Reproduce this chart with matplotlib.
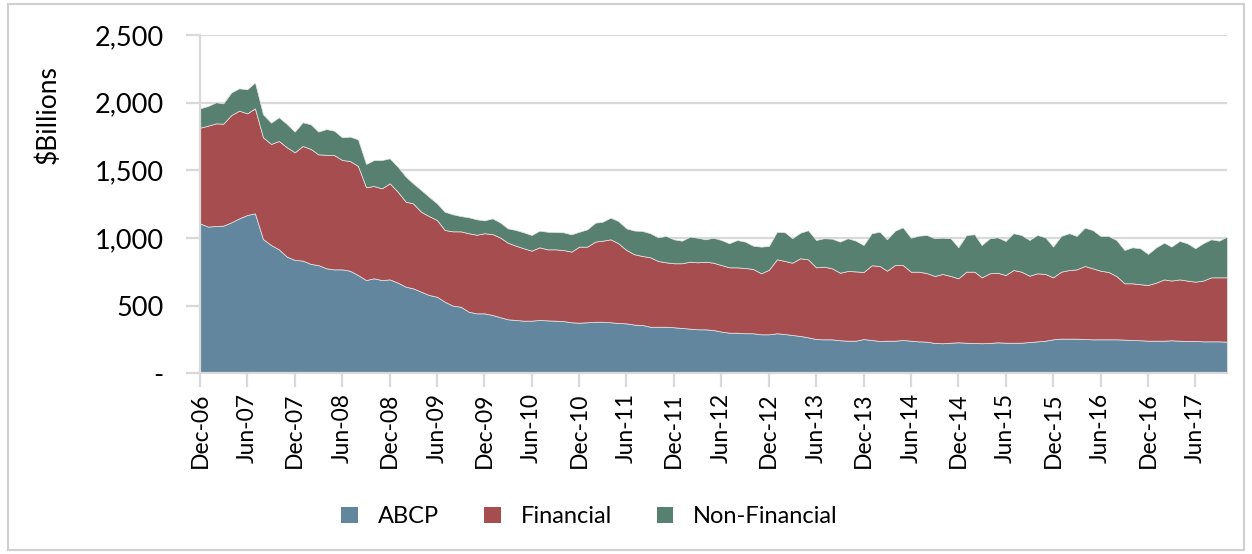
import numpy as np
import pandas as pd
import matplotlib
matplotlib.use("Agg")
import matplotlib.pyplot as plt
from matplotlib.patches import Patch, Rectangle

plt.rcParams['font.family'] = ['Lato', 'DejaVu Sans']

# monthly, Dec-06 .. Oct-17 ($ billions)
months = pd.date_range("2006-12-01", periods=131, freq="MS")

abcp = [1108, 1084, 1089, 1091, 1116, 1145, 1170, 1182, 992, 948,
        916, 862, 838, 833, 808, 800, 776, 768, 768, 758,
        726, 689, 702, 689, 694, 670, 640, 628, 603, 579,
        566, 529, 500, 492, 455, 443, 443, 431, 414, 399,
        394, 389, 389, 394, 391, 389, 386, 377, 374, 377,
        381, 381, 377, 372, 369, 360, 357, 344, 344, 344,
        340, 335, 330, 325, 325, 320, 308, 300, 300, 296,
        296, 288, 288, 296, 290, 283, 276, 266, 253, 251,
        251, 244, 241, 241, 253, 246, 239, 241, 241, 246,
        241, 236, 234, 224, 222, 226, 229, 226, 224, 222,
        224, 229, 226, 226, 226, 231, 236, 241, 251, 256,
        256, 256, 253, 251, 251, 251, 251, 249, 246, 244,
        241, 241, 241, 244, 241, 239, 239, 236, 236, 236,
        234]

financial = [707, 746, 758, 754, 793, 796, 751, 776, 752, 747,
             801, 808, 795, 847, 850, 818, 839, 845, 808, 811,
             806, 686, 682, 678, 710, 672, 628, 628, 591, 583,
             567, 530, 549, 557, 580, 581, 592, 598, 588, 566,
             549, 535, 517, 537, 525, 527, 525, 522, 562, 559,
             592, 599, 613, 589, 542, 520, 510, 513, 486, 476,
             473, 478, 495, 495, 500, 497, 492, 483, 483, 482,
             475, 451, 477, 546, 540, 534, 574, 576, 530, 537,
             525, 499, 515, 512, 496, 552, 554, 517, 559, 554,
             510, 515, 507, 495, 512, 493, 473, 525, 527, 487,
             515, 514, 500, 537, 525, 490, 503, 493, 458, 495,
             507, 512, 540, 525, 507, 498, 468, 416, 419, 414,
             412, 429, 453, 441, 453, 446, 438, 449, 473, 473,
             475]

non_financial = [143, 145, 156, 150, 167, 165, 178, 192, 170, 157,
                 175, 172, 153, 175, 182, 168, 190, 180, 168, 180,
                 197, 172, 192, 209, 185, 185, 185, 148, 161, 143,
                 123, 135, 126, 113, 118, 114, 95, 116, 111, 106,
                 116, 118, 116, 123, 130, 128, 131, 128, 110, 128,
                 140, 140, 160, 164, 160, 175, 185, 178, 175, 195,
                 177, 167, 185, 182, 165, 185, 185, 178, 202, 195,
                 172, 197, 176, 204, 212, 181, 189, 215, 202, 210,
                 219, 230, 242, 227, 199, 237, 253, 232, 254, 279,
                 251, 266, 281, 279, 268, 279, 229, 271, 276, 239,
                 259, 262, 252, 272, 271, 264, 283, 271, 227, 264,
                 272, 247, 283, 283, 257, 266, 266, 246, 266, 266,
                 229, 261, 271, 251, 284, 276, 247, 276, 281, 271,
                 301]

series_names = ["ABCP", "Financial", "Non-Financial"]
colors = ["#62869e", "#a64d50", "#578071"]

fig = plt.figure(figsize=(12.52, 5.54), dpi=100)
ax = fig.add_axes([0.1597, 0.3262, 0.8203, 0.6106])

ax.stackplot(months, abcp, financial, non_financial, colors=colors,
             edgecolor="#e6e6e6", linewidth=0.5, zorder=2)

ax.set_ylim(0, 2500)
ax.set_xlim(months[0], months[-1])
yt = [0, 500, 1000, 1500, 2000, 2500]
ax.set_yticks(yt)
ax.set_yticklabels(["-" if v == 0 else f"{v:,}" for v in yt], fontsize=19.5)
ax.yaxis.grid(True, color="#d9d9d9", linewidth=1.6, zorder=0)
ax.set_axisbelow(True)

xt = months[::6]
ax.set_xticks(xt)
ax.set_xticklabels([d.strftime("%b-%y") for d in xt], rotation=90, fontsize=16.5)

ax.tick_params(axis="y", length=10, width=1.6, color="#d9d9d9", pad=16)
ax.tick_params(axis="x", length=10, width=1.6, color="#d9d9d9", pad=4)
for s in ["top", "right"]:
    ax.spines[s].set_visible(False)
for s in ["left", "bottom"]:
    ax.spines[s].set_color("#d9d9d9")
    ax.spines[s].set_linewidth(1.6)

ax.set_ylabel("$Billions", fontsize=19)
ax.yaxis.set_label_coords(-0.136, 0.766)

handles = [Patch(facecolor=c, edgecolor="none") for c in colors]
fig.legend(handles, series_names, loc="center", bbox_to_anchor=(0.471, 0.067),
           ncol=3, frameon=False, fontsize=17, handlelength=0.7, handleheight=0.7,
           handletextpad=0.85, columnspacing=1.9)

fig.patches.append(Rectangle((0.006, 0.008), 0.988, 0.984, transform=fig.transFigure,
                             fill=False, edgecolor="#d0d0d0", linewidth=1.5))

fig.savefig("out.png", dpi=100)
